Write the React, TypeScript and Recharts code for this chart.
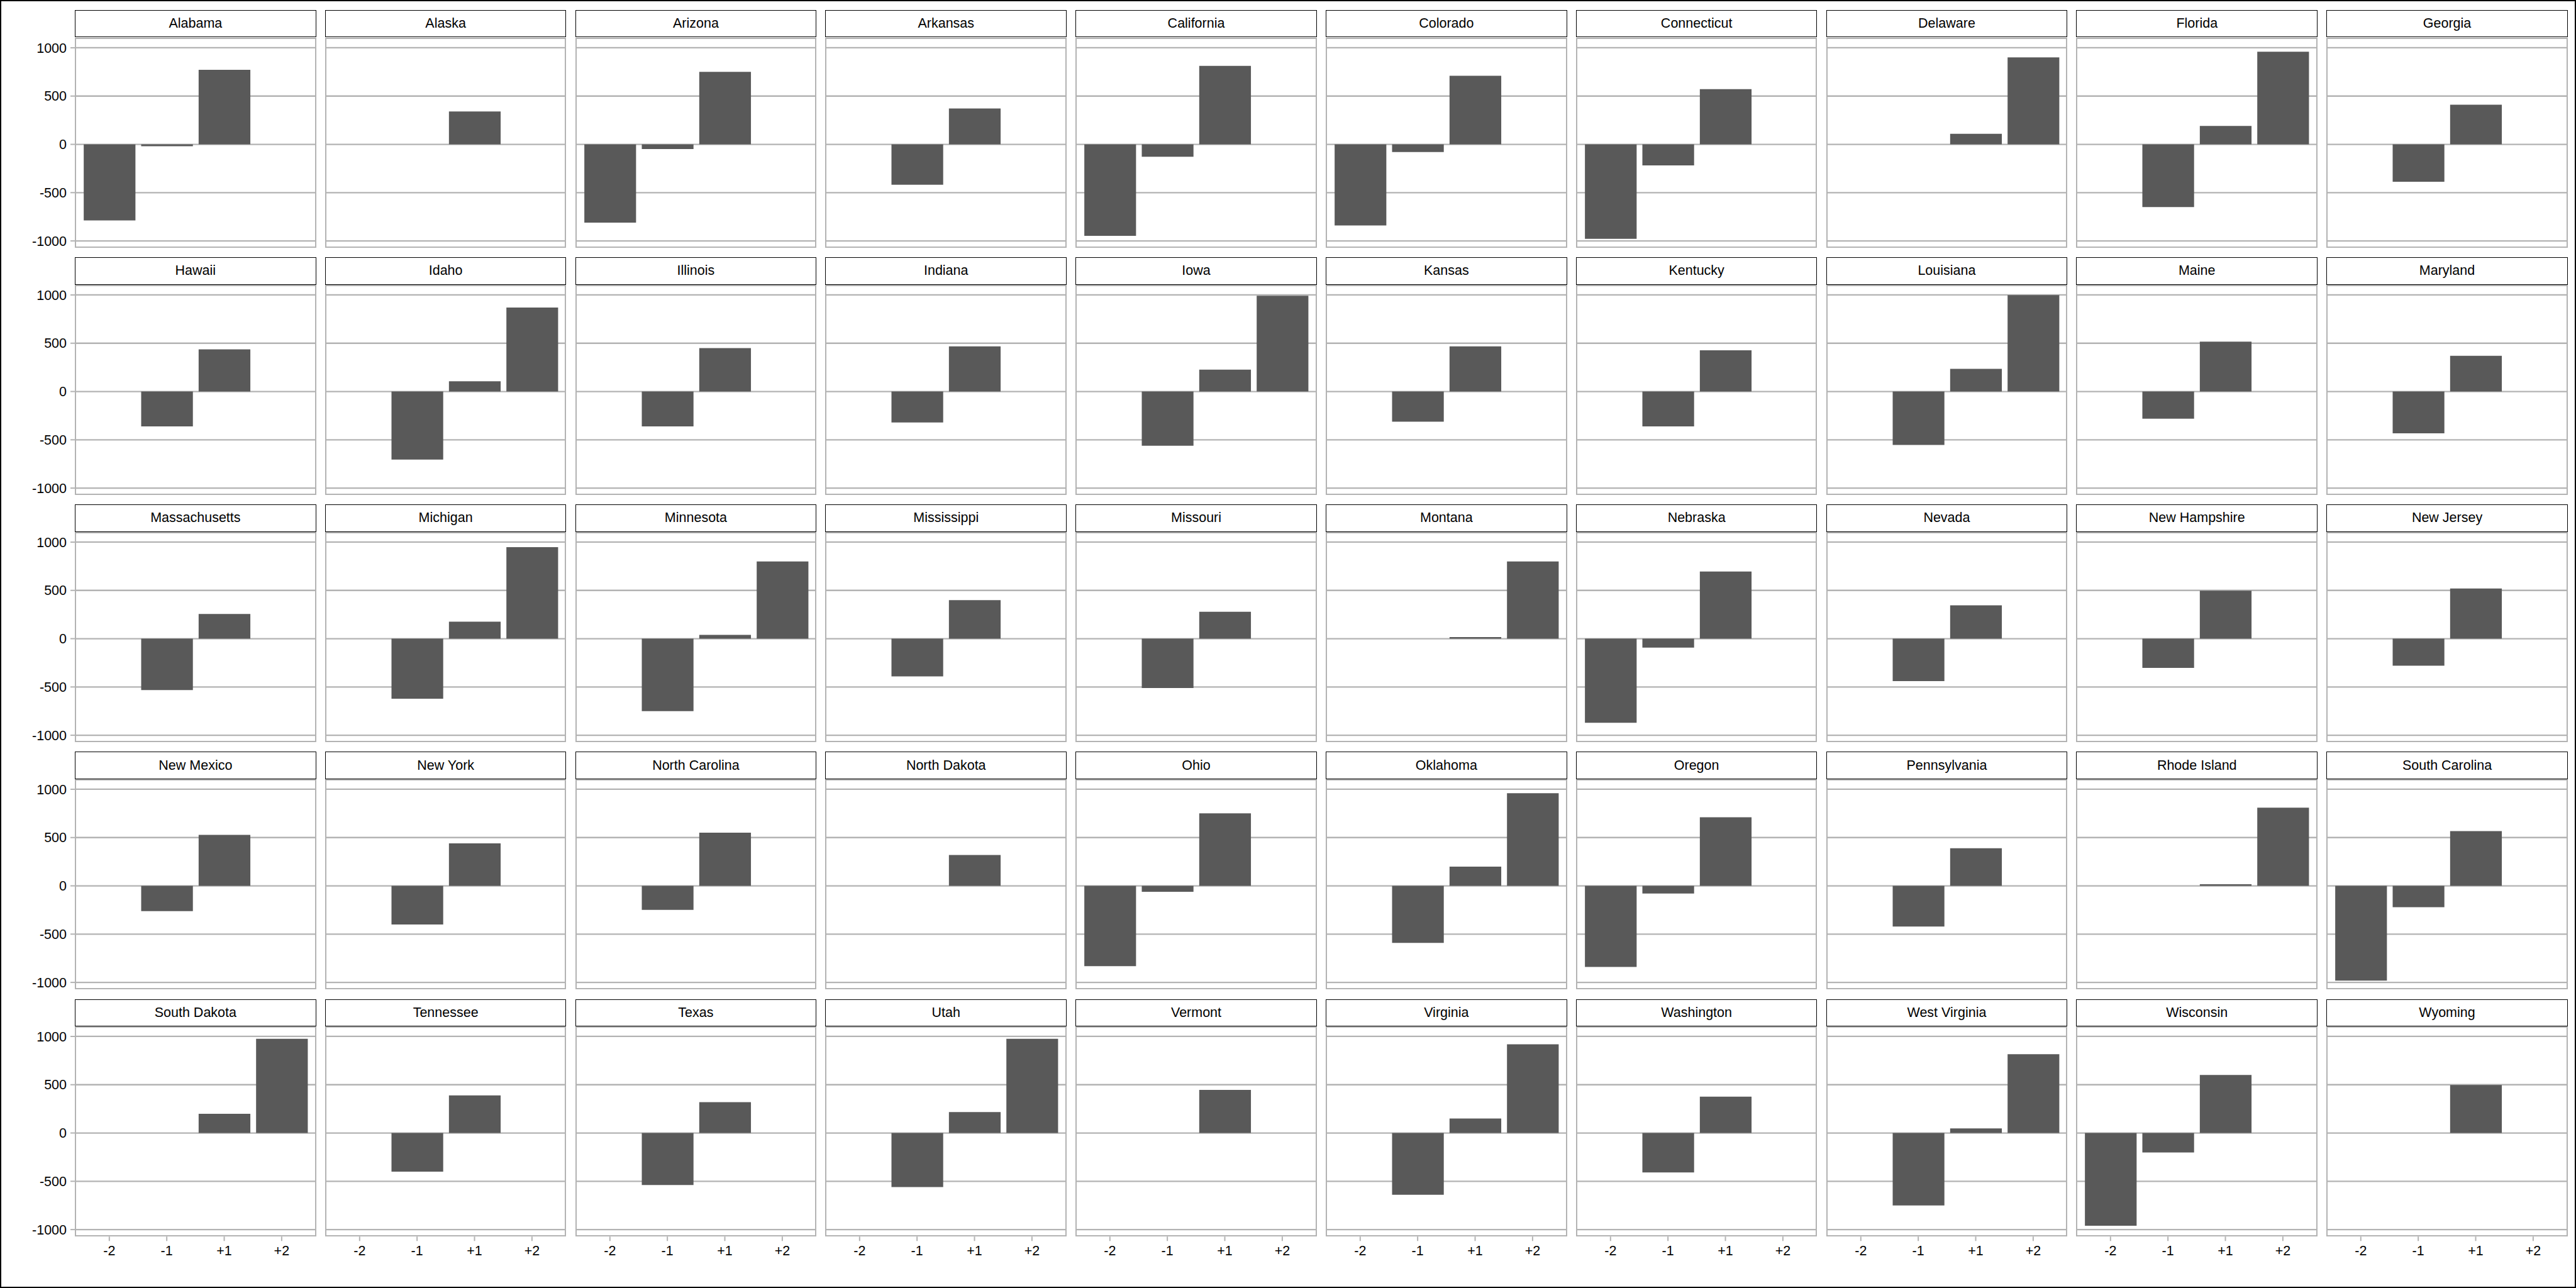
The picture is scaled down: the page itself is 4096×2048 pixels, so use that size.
import React from 'react';
import { BarChart, Bar, XAxis, YAxis, CartesianGrid } from 'recharts';

// state panels, read row by row (10 per row)
const states = [
  'Alabama', 'Alaska', 'Arizona', 'Arkansas', 'California', 'Colorado', 'Connecticut', 'Delaware', 'Florida', 'Georgia',
  'Hawaii', 'Idaho', 'Illinois', 'Indiana', 'Iowa', 'Kansas', 'Kentucky', 'Louisiana', 'Maine', 'Maryland',
  'Massachusetts', 'Michigan', 'Minnesota', 'Mississippi', 'Missouri', 'Montana', 'Nebraska', 'Nevada', 'New Hampshire', 'New Jersey',
  'New Mexico', 'New York', 'North Carolina', 'North Dakota', 'Ohio', 'Oklahoma', 'Oregon', 'Pennsylvania', 'Rhode Island', 'South Carolina',
  'South Dakota', 'Tennessee', 'Texas', 'Utah', 'Vermont', 'Virginia', 'Washington', 'West Virginia', 'Wisconsin', 'Wyoming',
];

const categories = ['-2', '-1', '+1', '+2'];

// one value per state, null = no bar
const minus2 = [
  -787, null, -810, null, -947, -840, -978, null, null, null,
  null, null, null, null, null, null, null, null, null, null,
  null, null, null, null, null, null, -871, null, null, null,
  null, null, null, null, -831, null, -840, null, null, -982,
  null, null, null, null, null, null, null, null, -960, null,
];
const minus1 = [
  -19, null, -49, -418, -129, -80, -218, null, -649, -387,
  -362, -705, -362, -321, -562, -312, -362, -554, -281, -433,
  -533, -622, -751, -391, -511, null, -93, -440, -302, -280,
  -262, -400, -249, null, -62, -591, -80, -422, null, -222,
  null, -400, -538, -560, null, -640, -409, -751, -201, null,
];
const plus1 = [
  772, 341, 750, 372, 812, 710, 572, 110, 190, 410,
  436, 106, 449, 467, 226, 467, 427, 235, 516, 369,
  256, 176, 39, 399, 279, 16, 696, 345, 496, 519,
  527, 439, 550, 319, 750, 199, 710, 390, 16, 567,
  199, 390, 319, 216, 447, 150, 376, 47, 601, 496,
];
const plus2 = [
  null, null, null, null, null, null, null, 901, 959, null,
  null, 869, null, null, 991, null, null, 999, null, null,
  null, 947, 799, null, null, 799, null, null, null, null,
  null, null, null, null, null, 959, null, null, 810, null,
  976, null, null, 976, null, 919, null, 816, null, null,
];

const yTicks = [-1000, -500, 0, 500, 1000];
const yDomain = [-1073, 1104];

const COLS = 10;
const LEFT = 117;
const COL_STEP = 397.8;
const PANEL_W = 383.7;
const TOP = 14.1;
const ROW_STEP = 393.1;
const STRIP_H = 43.4;
const PANEL_H = 334.3;
const Y_AXIS_W = 100;
const X_AXIS_H = 50;
const X_PAD = PANEL_W / 42;
const BAR_W = (0.9 * PANEL_W) / 4.2;

const FONT = '"Liberation Sans", Arial, sans-serif';
const GRID = '#b3b3b3';
const BAR = '#595959';

const seriesFor = (i: number) => {
  const vals = [minus2[i], minus1[i], plus1[i], plus2[i]];
  return categories.map((c, k) => ({ cat: c, value: vals[k] }));
};

const Panel = ({ index }: { index: number }) => {
  const col = index % COLS;
  const row = Math.floor(index / COLS);
  const lastRow = row === Math.floor((states.length - 1) / COLS);
  const x = LEFT + col * COL_STEP;
  const y = TOP + row * ROW_STEP;
  const showY = col === 0;
  const chartLeft = showY ? x - Y_AXIS_W : x;
  const tick = { fill: '#000', fontSize: 21.5, fontFamily: FONT };

  return (
    <>
      <div
        style={{
          position: 'absolute',
          left: x,
          top: y,
          width: PANEL_W,
          height: STRIP_H,
          boxSizing: 'border-box',
          border: '1.8px solid #000',
          background: '#fff',
          display: 'flex',
          alignItems: 'center',
          justifyContent: 'center',
          fontSize: 21.5,
          fontFamily: FONT,
          color: '#000',
        }}
      >
        {states[index]}
      </div>
      <div style={{ position: 'absolute', left: chartLeft, top: y + STRIP_H }}>
        <BarChart
          width={PANEL_W + (showY ? Y_AXIS_W : 0)}
          height={PANEL_H + (lastRow ? X_AXIS_H : 0)}
          data={seriesFor(index)}
          margin={{ top: 0, right: 0, bottom: 0, left: 0 }}
        >
          <CartesianGrid vertical={false} stroke={GRID} strokeWidth={2.3} horizontalValues={yTicks} />
          <XAxis
            dataKey="cat"
            type="category"
            hide={!lastRow}
            height={X_AXIS_H}
            padding={{ left: X_PAD, right: X_PAD }}
            interval={0}
            axisLine={false}
            tickLine={{ stroke: GRID, strokeWidth: 2 }}
            tickSize={7}
            tickMargin={7}
            tick={tick}
          />
          <YAxis
            type="number"
            domain={yDomain}
            allowDataOverflow
            ticks={yTicks}
            interval={0}
            hide={!showY}
            width={Y_AXIS_W}
            axisLine={false}
            tickLine={{ stroke: GRID, strokeWidth: 2 }}
            tickSize={7}
            tickMargin={6}
            tick={tick}
          />
          <Bar dataKey="value" fill={BAR} barSize={BAR_W} isAnimationActive={false} />
        </BarChart>
      </div>
      <div
        style={{
          position: 'absolute',
          left: x,
          top: y + STRIP_H,
          width: PANEL_W,
          height: PANEL_H,
          boxSizing: 'border-box',
          border: `2px solid ${GRID}`,
          pointerEvents: 'none',
        }}
      />
    </>
  );
};

export default function App() {
  return (
    <div
      style={{
        position: 'absolute',
        left: 0,
        top: 0,
        width: 4096,
        height: 2048,
        boxSizing: 'border-box',
        border: '2px solid #000',
        background: '#fff',
        fontFamily: FONT,
      }}
    >
      {states.map((s, i) => (
        <Panel key={s} index={i} />
      ))}
    </div>
  );
}
